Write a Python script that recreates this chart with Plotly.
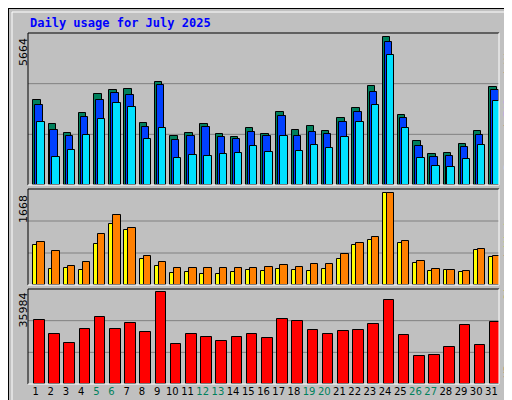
import plotly.graph_objects as go

days = list(range(1, 32))
hits = [3241,2357,2011,2780,3472,3625,3676,2395,3933,1896,2011,2357,1973,1857,2203,1973,2818,2126,2280,2088,2588,2972,3779,5664,2703,1704,1204,1243,1588,2088,3741]
files = [3049,2126,1896,2626,3279,3510,3433,2242,3817,1742,1896,2242,1857,1781,2050,1896,2664,1896,2050,1973,2434,2818,3548,5470,2588,1512,1089,1127,1473,1934,3625]
pages = [2434,1089,1358,1934,2549,3126,3010,1781,2203,1050,1166,1127,1204,1243,1512,1281,1896,1319,1550,1435,1857,2434,3049,4970,2203,1050,743,705,1012,1550,3203]
visits = [783,620,349,421,927,1270,1035,530,421,313,313,313,313,313,313,331,367,331,385,385,566,765,873,1668,801,439,295,277,259,656,530]
sites = [728,295,313,277,746,1108,999,476,349,223,241,205,205,241,277,259,295,277,259,295,476,728,819,1668,765,403,259,277,241,638,512]
kbytes = [25254,19758,16225,21721,26432,21721,24076,20543,35984,15833,19758,18581,17011,18581,19758,18188,25647,24862,21329,19758,20936,21329,23684,33105,19366,11122,11515,14655,23291,15440,24469]
weekend = {5,6,12,13,19,20,26,27}
month_title = "Daily usage for July 2025"

fig = go.Figure()
def bars(y, color, off, w, ax):
    fig.add_trace(go.Bar(x=days, y=y, offset=off, width=w, marker=dict(color=color, line=dict(color="black", width=1)),
                         xaxis="x" + ax, yaxis="y" + ax, showlegend=False, hoverinfo="skip"))

bars(hits, "#00805c", -0.15, 0.49, "")
bars(files, "#0040ff", -0.02, 0.49, "")
bars(pages, "#00e0ff", 0.11, 0.49, "")
bars(sites, "#ffff00", -0.15, 0.3, "2")
bars(visits, "#ff8000", 0.11, 0.49, "2")
bars(kbytes, "#ff0000", -0.1, 0.7, "3")

xd = [20/512, 491/512]
ticktext = [f"<span style='color:#00805c'>{d}</span>" if d in weekend else str(d) for d in days]
common = dict(range=[0.5, 31.5], showgrid=False, zeroline=False, showline=False, domain=xd, automargin=False)
fig.update_layout(
    width=512, height=400, margin=dict(l=0, r=0, t=0, b=0, autoexpand=False),
    paper_bgcolor="#c0c0c0", plot_bgcolor="#c0c0c0", barmode="overlay", bargap=0,
    xaxis=dict(**common, anchor="y", showticklabels=False),
    xaxis2=dict(**common, anchor="y2", showticklabels=False),
    xaxis3=dict(**common, anchor="y3", tickvals=days, ticktext=ticktext, ticks="", tickangle=0,
                ticklen=0, tickfont=dict(family="DejaVu Sans", size=10, color="black")),
    yaxis=dict(domain=[1-177/400, 1-25/400], range=[0, 5829], visible=False),
    yaxis2=dict(domain=[1-277/400, 1-181/400], range=[0, 1734], visible=False),
    yaxis3=dict(domain=[1-376/400, 1-281/400], range=[0, 37280], visible=False),
)

shapes = []
for ay in ["y", "y2", "y3"]:
    xr = "x" if ay == "y" else "x" + ay[1]
    for f in (1/3, 2/3):
        shapes.append(dict(type="line", xref=xr + " domain", yref=ay + " domain", x0=0, x1=1, y0=f, y1=f,
                           line=dict(color="#808080", width=1), layer="below"))
    shapes.append(dict(type="line", xref=xr + " domain", yref=ay + " domain", x0=0, x1=1, y0=1, y1=1, line=dict(color="black", width=1)))
    shapes.append(dict(type="line", xref=xr + " domain", yref=ay + " domain", x0=0, x1=0, y0=0, y1=1, line=dict(color="black", width=1)))
    shapes.append(dict(type="line", xref=xr + " domain", yref=ay + " domain", x0=1, x1=1, y0=0, y1=1, line=dict(color="white", width=1)))
    shapes.append(dict(type="line", xref=xr + " domain", yref=ay + " domain", x0=0, x1=1, y0=0, y1=0, line=dict(color="white", width=1)))
shapes.append(dict(type="rect", xref="paper", yref="paper", x0=0, x1=1, y0=0, y1=1, line=dict(color="black", width=2)))
shapes.append(dict(type="line", xref="paper", yref="paper", x0=4/512, x1=4/512, y0=4/400, y1=1-4/400, line=dict(color="white", width=1)))
shapes.append(dict(type="line", xref="paper", yref="paper", x0=4/512, x1=1-4/512, y0=1-4/400, y1=1-4/400, line=dict(color="white", width=1)))
shapes.append(dict(type="line", xref="paper", yref="paper", x0=1-4/512, x1=1-4/512, y0=4/400, y1=1-4/400, line=dict(color="#808080", width=1)))
shapes.append(dict(type="line", xref="paper", yref="paper", x0=4/512, x1=1-4/512, y0=4/400, y1=4/400, line=dict(color="#808080", width=1)))
fig.update_layout(shapes=shapes)

mono = "DejaVu Sans Mono"
ann = [
    dict(text=f"<b>{month_title}</b>", x=20/512, y=1-15/400, xanchor="left", yanchor="middle",
         font=dict(family=mono, size=12, color="#0000ff")),
    dict(text=str(max(hits)), x=15/512, y=1-28/400, xanchor="center", yanchor="top", textangle=-90,
         font=dict(family="DejaVu Sans", size=11, color="black")),
    dict(text=str(max(visits)), x=15/512, y=1-185/400, xanchor="center", yanchor="top", textangle=-90,
         font=dict(family="DejaVu Sans", size=11, color="black")),
    dict(text=str(max(kbytes)), x=15/512, y=1-283/400, xanchor="center", yanchor="top", textangle=-90,
         font=dict(family="DejaVu Sans", size=11, color="black")),
    dict(text="<span style='color:#00e0ff'>Pages</span> / <span style='color:#0040ff'>Files</span> / <span style='color:#00805c'>Hits</span>",
         x=500/512, y=1-28/400, xanchor="center", yanchor="top", textangle=-90, font=dict(family=mono, size=11, color="black")),
    dict(text="<span style='color:#ff8000'>Sites</span> / <span style='color:#ffff00'>Visits</span>",
         x=500/512, y=1-198/400, xanchor="center", yanchor="top", textangle=-90, font=dict(family=mono, size=11, color="black")),
    dict(text="<span style='color:#ff0000'>KBytes</span>",
         x=500/512, y=1-328/400, xanchor="center", yanchor="top", textangle=-90, font=dict(family=mono, size=11, color="black")),
]
for a in ann:
    a.update(xref="paper", yref="paper", showarrow=False)
fig.update_layout(annotations=ann)
fig.write_html("out.html")
